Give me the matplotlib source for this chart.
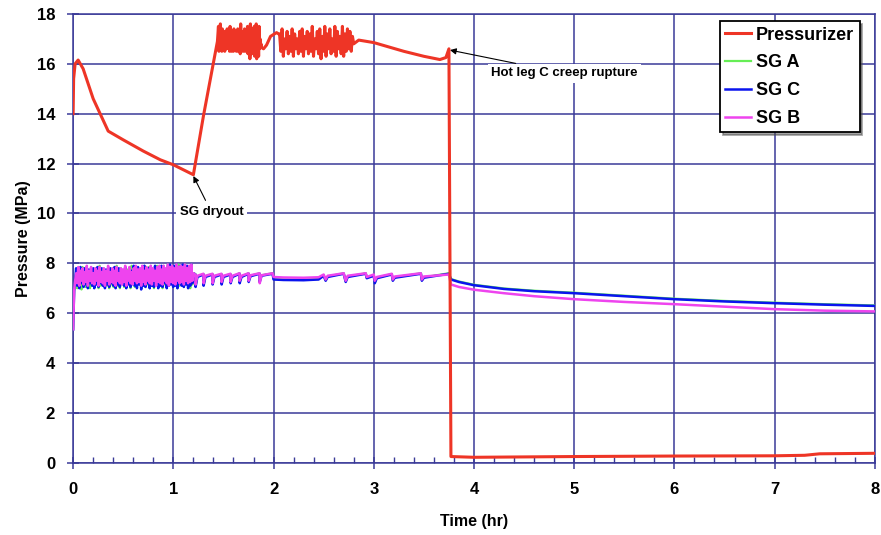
import numpy as np
import matplotlib
matplotlib.use('Agg')
import matplotlib.pyplot as plt

plt.rcParams['font.family'] = ['Liberation Sans', 'DejaVu Sans']
plt.rcParams['font.weight'] = 'bold'

# =========================
# Pressurizer
# =========================
prz_t_start = [0.0, 0.005, 0.02, 0.05, 0.1, 0.2, 0.35, 0.5, 0.7, 0.87, 1.0, 1.2, 1.3, 1.44]
prz_p_start = [14.0, 15.4, 16.0, 16.15, 15.8, 14.6, 13.3, 12.95, 12.5, 12.15, 11.95, 11.55, 13.9, 16.9]

# dense oscillation 1.44 - 1.88 hr
prz_osc1 = [17.5, 16.5, 17.3, 16.6, 17.6, 16.7, 17.2, 16.5, 17.4, 16.6,
            17.1, 16.7, 17.3, 16.5, 17.0, 16.8, 17.2, 16.6, 17.4, 16.7,
            17.0, 16.6, 17.3, 16.5, 17.5, 16.7, 17.1, 16.5, 17.3, 16.6,
            17.2, 16.5, 17.4, 16.6, 17.1, 16.7, 17.3, 16.5, 17.2, 16.6,
            17.4, 16.5, 17.0, 16.6, 17.3, 16.4, 17.6, 16.6, 17.2, 16.5,
            17.3, 16.6, 17.1, 16.5, 17.4, 16.7, 17.2, 16.5, 17.3, 16.6,
            17.5, 16.4, 17.1, 16.6, 17.3, 16.2, 17.6, 16.5, 17.2, 16.4,
            17.4, 16.6, 17.2, 16.5, 17.5, 16.3, 17.3, 16.6, 17.6, 16.2,
            17.2, 16.5, 17.4, 16.3, 17.5, 16.6, 17.0, 16.7, 16.8, 16.65]

prz_t_mid = [1.90, 1.93, 1.97, 2.03, 2.05]
prz_p_mid = [16.6, 16.75, 17.1, 17.25, 17.2]

# spiky oscillation 2.06 - 2.80 hr
prz_osc2 = [17.2, 16.5, 17.4, 16.3, 17.0, 16.6, 17.3, 16.4, 17.1, 16.5, 17.4, 16.3,
            17.2, 16.6, 17.0, 16.4, 17.3, 16.5, 17.4, 16.3, 17.1, 16.6, 17.3, 16.4,
            17.2, 16.5, 17.5, 16.3, 17.0, 16.6, 17.3, 16.4, 17.4, 16.2, 17.1, 16.5,
            17.5, 16.3, 17.2, 16.6, 17.4, 16.4, 17.0, 16.5, 17.5, 16.3, 17.3, 16.6,
            17.1, 16.4, 17.5, 16.3, 17.2, 16.5, 17.4, 16.6, 17.3, 16.5, 17.1, 16.8]

prz_t_end = [2.85, 3.0, 3.3, 3.5, 3.66, 3.72, 3.75, 3.77, 4.0, 5.0, 6.0, 7.0, 7.3, 7.45, 8.0]
prz_p_end = [16.95, 16.85, 16.5, 16.3, 16.17, 16.25, 16.6, 0.25, 0.22, 0.25, 0.27, 0.28, 0.3, 0.36, 0.38]

# =========================
# Steam generators
# =========================
sg_t_start = [0.0, 0.01, 0.02]
sg_p_start = [5.35, 6.9, 7.3]

sgc_osc = [7.8, 7.1, 7.7, 7.0, 7.85, 7.2, 7.6, 7.05, 7.8, 7.15,
           7.7, 7.0, 7.75, 7.2, 7.65, 7.1, 7.8, 7.0, 7.7, 7.15,
           7.85, 7.05, 7.6, 7.2, 7.8, 7.1, 7.7, 7.0, 7.75, 7.15,
           7.65, 7.05, 7.8, 7.2, 7.7, 7.1, 7.85, 7.0, 7.6, 7.15,
           7.8, 7.05, 7.75, 7.2, 7.7, 7.1, 7.85, 7.0, 7.65, 7.15,
           7.8, 7.05, 7.7, 7.2, 7.9, 7.1, 7.75, 7.0, 7.85, 7.15,
           7.7, 6.95, 7.8, 7.1, 7.9, 7.05, 7.75, 7.2, 7.8, 7.0,
           7.85, 7.1, 7.7, 7.05, 7.9, 7.15, 7.8, 7.0, 7.75, 7.1,
           7.9, 7.05, 7.8, 7.2, 7.7, 7.0, 7.85, 7.1, 7.95, 7.15,
           7.8, 7.05, 7.9, 7.1, 7.75, 7.0, 7.85, 7.2, 7.9, 7.1,
           7.95, 7.05, 7.8, 7.15, 7.9, 7.0, 7.85, 7.1, 7.95, 7.2]
sgb_osc = [7.6, 7.2, 7.85, 7.1, 7.7, 7.3, 7.8, 7.15, 7.65, 7.25,
           7.9, 7.1, 7.7, 7.3, 7.85, 7.2, 7.6, 7.15, 7.8, 7.3,
           7.7, 7.1, 7.85, 7.25, 7.65, 7.2, 7.8, 7.1, 7.7, 7.3,
           7.9, 7.15, 7.65, 7.25, 7.8, 7.2, 7.7, 7.1, 7.85, 7.3,
           7.6, 7.2, 7.8, 7.15, 7.75, 7.25, 7.9, 7.1, 7.7, 7.3,
           7.85, 7.2, 7.65, 7.15, 7.8, 7.3, 7.9, 7.2, 7.75, 7.25,
           7.8, 7.1, 7.9, 7.25, 7.7, 7.15, 7.85, 7.3, 7.75, 7.2,
           7.9, 7.15, 7.8, 7.3, 7.7, 7.1, 7.85, 7.25, 7.9, 7.2,
           7.75, 7.15, 7.9, 7.3, 7.8, 7.2, 7.95, 7.1, 7.85, 7.25,
           7.9, 7.2, 7.8, 7.15, 7.95, 7.3, 7.85, 7.2, 7.9, 7.25,
           7.85, 7.15, 7.95, 7.3, 7.8, 7.2, 7.9, 7.25, 7.95, 7.3]
sga_osc = [7.7, 7.0, 7.8, 7.15, 7.75, 6.95, 7.85, 7.1, 7.7, 7.05,
           7.8, 7.2, 7.65, 7.0, 7.85, 7.1, 7.75, 7.05, 7.8, 7.15,
           7.7, 7.0, 7.9, 7.1, 7.75, 7.2, 7.8, 7.05, 7.7, 7.1,
           7.85, 7.0, 7.75, 7.15, 7.8, 7.05, 7.7, 7.2, 7.9, 7.1,
           7.75, 7.0, 7.8, 7.15, 7.7, 7.05, 7.85, 7.1, 7.75, 7.2,
           7.8, 7.0, 7.9, 7.15, 7.7, 7.05, 7.85, 7.1, 7.8, 7.2,
           7.75, 7.0, 7.85, 7.1, 7.9, 7.05, 7.8, 7.15, 7.85, 7.0,
           7.9, 7.1, 7.75, 7.0, 7.85, 7.2, 7.9, 7.05, 7.8, 7.1,
           7.85, 7.0, 7.9, 7.15, 7.75, 7.05, 7.95, 7.1, 7.8, 7.2,
           7.9, 7.05, 7.85, 7.15, 7.8, 7.0, 7.95, 7.1, 7.85, 7.2,
           7.9, 7.05, 7.95, 7.15, 7.85, 7.1, 7.9, 7.0, 7.95, 7.15]

sg_t_end = [1.20, 1.22, 1.222, 1.24, 1.30, 1.302, 1.32, 1.39, 1.392, 1.41, 1.48, 1.482, 1.50,
            1.57, 1.572, 1.59, 1.66, 1.662, 1.68, 1.75, 1.752, 1.77, 1.86, 1.862, 1.88, 1.99,
            2.0, 2.1, 2.3, 2.45, 2.5, 2.52, 2.54, 2.70, 2.72, 2.74, 2.92, 2.93, 3.0, 3.01,
            3.03, 3.18, 3.19, 3.21, 3.47, 3.48, 3.50, 3.75, 3.77, 3.85, 4.0, 4.3, 4.6, 5.0,
            5.5, 6.0, 6.5, 7.0, 7.5, 8.0]
sgc_p_end = [7.6, 7.55, 7.05, 7.45, 7.55, 7.1, 7.45, 7.55, 7.15, 7.45, 7.55, 7.15, 7.45,
             7.55, 7.2, 7.45, 7.58, 7.2, 7.45, 7.58, 7.25, 7.48, 7.58, 7.25, 7.5, 7.58,
             7.35, 7.33, 7.32, 7.35, 7.5, 7.3, 7.45, 7.58, 7.25, 7.45, 7.58, 7.4, 7.5, 7.2,
             7.4, 7.55, 7.3, 7.42, 7.58, 7.3, 7.42, 7.58, 7.35, 7.25, 7.12, 6.97, 6.88, 6.8,
             6.68, 6.56, 6.47, 6.4, 6.34, 6.29]
sga_p_end = [7.6, 7.57, 7.1, 7.47, 7.57, 7.15, 7.47, 7.57, 7.2, 7.47, 7.57, 7.2, 7.47,
             7.57, 7.25, 7.47, 7.6, 7.25, 7.47, 7.6, 7.3, 7.5, 7.6, 7.3, 7.52, 7.6,
             7.37, 7.35, 7.34, 7.37, 7.52, 7.32, 7.47, 7.6, 7.28, 7.47, 7.6, 7.42, 7.52, 7.22,
             7.42, 7.57, 7.32, 7.44, 7.6, 7.32, 7.44, 7.6, 7.37, 7.27, 7.14, 6.99, 6.9, 6.82,
             6.7, 6.58, 6.49, 6.42, 6.36, 6.31]
sgb_p_end = [7.6, 7.55, 7.15, 7.5, 7.58, 7.2, 7.5, 7.58, 7.2, 7.5, 7.58, 7.25, 7.5,
             7.58, 7.25, 7.5, 7.6, 7.3, 7.5, 7.6, 7.3, 7.52, 7.6, 7.2, 7.52, 7.6,
             7.45, 7.43, 7.42, 7.44, 7.55, 7.35, 7.5, 7.6, 7.3, 7.5, 7.6, 7.45, 7.55, 7.3,
             7.45, 7.58, 7.35, 7.47, 7.6, 7.35, 7.47, 7.55, 7.15, 7.05, 6.94, 6.8, 6.68, 6.56,
             6.45, 6.36, 6.26, 6.16, 6.1, 6.07]


def build(t_parts, p_parts):
    return np.concatenate(t_parts), np.concatenate(p_parts)


prz_t, prz_p = build(
    [prz_t_start, np.linspace(1.45, 1.88, len(prz_osc1)), prz_t_mid,
     np.linspace(2.06, 2.80, len(prz_osc2)), prz_t_end],
    [prz_p_start, prz_osc1, prz_p_mid, prz_osc2, prz_p_end])

osc_t = np.linspace(0.03, 1.19, len(sgc_osc))
sga_t, sga_p = build([sg_t_start, osc_t, sg_t_end], [sg_p_start, sga_osc, sga_p_end])
sgc_t, sgc_p = build([sg_t_start, osc_t, sg_t_end], [sg_p_start, sgc_osc, sgc_p_end])
sgb_t, sgb_p = build([sg_t_start, osc_t, sg_t_end], [sg_p_start, sgb_osc, sgb_p_end])

# =========================
# Plot
# =========================
navy = '#3a3a98'
fig = plt.figure(figsize=(8.81, 5.35), dpi=100)
ax = fig.add_axes([0.083, 0.135, 0.910, 0.839])

ax.plot(prz_t, prz_p, color='#ee3526', lw=2.2, label='Pressurizer', zorder=5)
ax.plot(sga_t, sga_p, color='#66ee55', lw=1.6, label='SG A', zorder=3)
ax.plot(sgc_t, sgc_p, color='#0a14ee', lw=1.8, label='SG C', zorder=3)
ax.plot(sgb_t, sgb_p, color='#ee44ee', lw=1.8, label='SG B', zorder=4)

ax.set_xlim(0, 8)
ax.set_ylim(0, 18)
ax.set_xticks(range(0, 9))
ax.set_yticks(range(0, 19, 2))
ax.set_xticks(np.arange(0, 8.01, 0.2), minor=True)
ax.grid(True, color=navy, lw=1.1)
for s in ax.spines.values():
    s.set_color(navy)
    s.set_linewidth(1.1)
ax.tick_params(axis='both', which='major', direction='inout', length=8, width=1.1,
               color=navy, labelsize=12)
ax.tick_params(axis='x', which='major', pad=10)
ax.tick_params(axis='y', which='major', pad=9)
ax.tick_params(axis='x', which='minor', direction='in', length=4, width=1.0, color=navy)

ax.set_xlabel('Time (hr)', fontsize=11.5, fontweight='bold', labelpad=12)
ax.set_ylabel('Pressure (MPa)', fontsize=11.5, fontweight='bold', labelpad=4)

box = dict(boxstyle='square,pad=0.25', fc='white', ec='none')
ax.annotate('SG dryout', xy=(1.2, 11.5), xytext=(1.38, 10.05), fontsize=9.5,
            fontweight='bold', ha='center', va='center', bbox=box,
            arrowprops=dict(arrowstyle='-|>', color='black', lw=0.8, mutation_scale=9,
                            shrinkA=2, shrinkB=0))
ax.annotate('Hot leg C creep rupture', xy=(3.76, 16.55), xytext=(4.17, 15.62), fontsize=9.5,
            fontweight='bold', ha='left', va='center', bbox=box,
            arrowprops=dict(arrowstyle='-|>', color='black', lw=0.8, mutation_scale=9,
                            shrinkA=2, shrinkB=0))

leg = ax.legend(loc='upper right', bbox_to_anchor=(0.981, 0.984), borderaxespad=0,
                fontsize=13, frameon=True, fancybox=False, shadow=True, edgecolor='black',
                framealpha=1, handlelength=1.4, handletextpad=0.3, labelspacing=0.6,
                borderpad=0.3)
leg.get_frame().set_linewidth(1.3)
leg.set_zorder(10)

fig.savefig('out.png', dpi=100)
